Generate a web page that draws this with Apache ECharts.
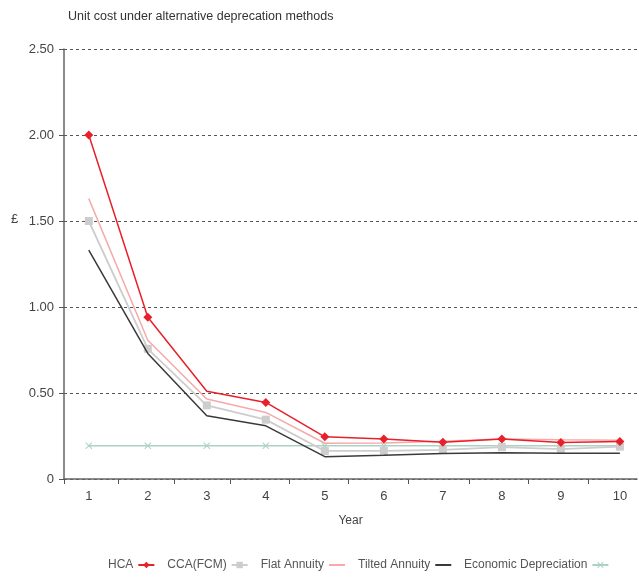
<!DOCTYPE html>
<html>
<head>
<meta charset="utf-8">
<script src="https://cdn.jsdelivr.net/npm/echarts@6/dist/echarts.min.js"></script>
<style>html,body{margin:0;padding:0;background:#fff}#c{width:639px;height:579px}</style>
</head>
<body>
<div id="c"></div>
<script>
var years = [1, 2, 3, 4, 5, 6, 7, 8, 9, 10];
var hca = [2.00, 0.94, 0.51, 0.445, 0.245, 0.233, 0.214, 0.232, 0.212, 0.218];
var hcaNoMarker = [3];
var cca = [1.50, 0.757, 0.428, 0.345, 0.163, 0.163, 0.169, 0.185, 0.174, 0.188];
var flatAnnuity = [1.63, 0.807, 0.465, 0.387, 0.208, 0.21, 0.22, 0.232, 0.228, 0.226];
var tiltedAnnuity = [1.33, 0.73, 0.368, 0.309, 0.13, 0.138, 0.148, 0.152, 0.15, 0.15];
var economicDep = [0.193, 0.193, 0.193, 0.193, 0.193, 0.193, 0.193, 0.193, 0.193, 0.193];
var yTickValues = [0, 0.5, 1.0, 1.5, 2.0, 2.5];
var xTickValues = [0.58, 1.5, 2.45, 3.4, 4.4, 5.4, 6.42, 7.44, 8.44, 9.47];
var yUnitLabel = '£';
var yUnitAt = 1.5;

var FONT = "'Liberation Sans', sans-serif";

function pairs(arr, hidden) {
  return years.map(function (y, i) {
    var item = { value: [y, arr[i]] };
    if (hidden && hidden.indexOf(y) >= 0) item.symbol = 'none';
    return item;
  });
}

var xShape = 'path://M0,1L1,0L5,4L9,0L10,1L6,5L10,9L9,10L5,6L1,10L0,9L4,5Z';
var noSym = { color: 'rgba(0,0,0,0)', borderColor: 'rgba(0,0,0,0)', borderWidth: 0 };

var legendBase = {
  bottom: 3,
  align: 'right',
  itemWidth: 16,
  itemHeight: 8,
  itemGap: 12,
  textStyle: { fontFamily: FONT, fontSize: 12, color: '#555' }
};

var chart = echarts.init(document.getElementById('c'), null, { renderer: 'canvas' });
chart.setOption({
  animation: false,
  textStyle: { fontFamily: FONT },
  title: {
    text: 'Unit cost under alternative deprecation methods',
    left: 63, top: 5,
    textStyle: { fontFamily: FONT, fontSize: 12.5, fontWeight: 'normal', color: '#333' }
  },
  grid: { left: 64, right: 2, top: 49, bottom: 100, containLabel: false },
  legend: [
    Object.assign({}, legendBase, {
      left: 103,
      data: [
        { name: 'HCA' },
        { name: 'CCA(FCM)' },
        { name: 'Flat Annuity', itemStyle: noSym },
        { name: 'Tilted Annuity', itemStyle: noSym }
      ]
    }),
    Object.assign({}, legendBase, {
      left: 459,
      data: [{ name: 'Economic Depreciation' }]
    })
  ],
  xAxis: {
    type: 'value',
    min: 0.58, max: 10.29,
    name: 'Year',
    nameLocation: 'middle',
    nameGap: 36,
    nameTextStyle: { fontFamily: FONT, fontSize: 12, color: '#444' },
    axisLine: { lineStyle: { color: '#666', width: 1.5 } },
    axisTick: { show: true, length: 5, customValues: xTickValues, lineStyle: { color: '#555' } },
    axisLabel: { customValues: years, margin: 11, fontFamily: FONT, fontSize: 13, color: '#444' },
    splitLine: { show: false }
  },
  yAxis: {
    type: 'value',
    min: 0, max: 2.5, interval: 0.25,
    axisLine: { show: true, lineStyle: { color: '#666', width: 1.5 } },
    axisTick: { show: true, length: 5, customValues: yTickValues, lineStyle: { color: '#555' } },
    axisLabel: {
      customValues: yTickValues, margin: 10, fontFamily: FONT, fontSize: 13, color: '#444',
      formatter: function (v) { return v === 0 ? '0' : v.toFixed(2); }
    },
    splitLine: { show: true, lineStyle: { color: '#555', type: [3, 3], width: 1 } }
  },
  series: [
    {
      name: 'HCA', type: 'line', data: pairs(hca, hcaNoMarker),
      symbol: 'diamond', symbolSize: 9, showSymbol: true,
      lineStyle: { color: '#e8202a', width: 1.5 }, itemStyle: { color: '#e8202a' }, z: 6
    },
    {
      name: 'CCA(FCM)', type: 'line', data: pairs(cca),
      symbol: 'rect', symbolSize: 8,
      lineStyle: { color: '#cdcdcd', width: 1.8 }, itemStyle: { color: '#cdcdcd' }, z: 3
    },
    {
      name: 'Flat Annuity', type: 'line', data: pairs(flatAnnuity),
      symbol: 'none',
      lineStyle: { color: '#f6a9a9', width: 1.5 }, itemStyle: { color: '#f6a9a9' }, z: 5
    },
    {
      name: 'Tilted Annuity', type: 'line', data: pairs(tiltedAnnuity),
      symbol: 'none',
      lineStyle: { color: '#3a3a3a', width: 1.5 }, itemStyle: { color: '#3a3a3a' }, z: 4
    },
    {
      name: 'Economic Depreciation', type: 'line', data: pairs(economicDep),
      symbol: xShape, symbolSize: 7,
      lineStyle: { color: '#acd2c4', width: 1.5 }, itemStyle: { color: '#acd2c4' }, z: 2
    }
  ]
});
var unitY = chart.convertToPixel({ yAxisIndex: 0 }, yUnitAt);
chart.setOption({
  graphic: [{
    type: 'text', left: 11, top: unitY - 8,
    style: { text: yUnitLabel, font: '13px ' + FONT, fill: '#444' }
  }]
});
</script>
</body>
</html>
